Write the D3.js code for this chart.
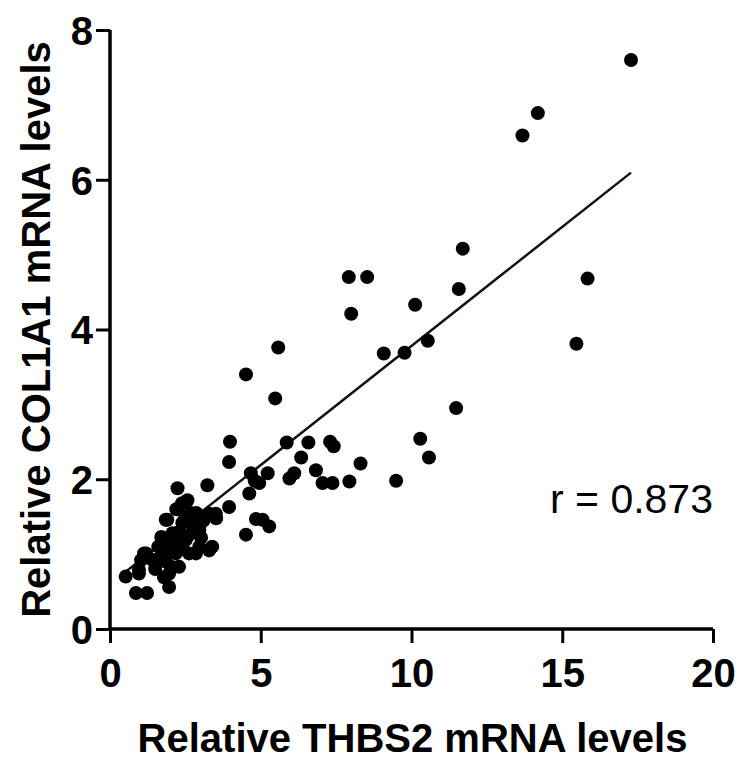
<!DOCTYPE html>
<html>
<head>
  <title>THBS2 vs COL1A1</title>
  <style>
    body { margin: 0; background: #fff; }
    text { font-family: "Liberation Sans", Arial, sans-serif; fill: #000; }
  </style>
</head>
<body>
  <svg width="741" height="772" class="svg-scatter"></svg>
<script src="https://cdnjs.cloudflare.com/ajax/libs/d3/7.8.5/d3.min.js"></script>
<script type="text/javascript">
  // values
  var thbs2 = [17.28, 14.19, 13.68, 11.70, 7.92, 8.53, 15.84, 11.57, 10.12, 8.00,
               10.54, 9.08, 9.77, 15.47, 11.48, 5.58, 4.51, 5.48, 3.98, 3.95,
               5.86, 6.58, 7.30, 7.42, 6.34, 10.29, 10.58, 8.31, 9.49, 7.94,
               6.83, 7.05, 7.38, 5.95, 6.11, 4.67, 5.23, 4.62, 3.23, 3.95,
               5.06, 5.28, 4.51, 3.29, 4.84, 4.95, 4.80,
               2.24, 2.39, 2.57, 2.68, 2.86, 3.51, 3.52, 1.85, 1.90, 2.40,
               2.96, 2.96, 2.07, 2.13, 2.51, 1.73, 1.70, 3.29, 3.39, 2.96,
               2.85, 2.62, 2.18, 2.19, 1.79, 1.13, 1.20, 1.41, 1.53, 1.03,
               1.85, 2.29, 2.03, 1.96, 1.79, 0.52, 0.96, 0.96, 1.96, 0.86, 1.23,
               2.20, 2.50, 2.72, 3.10, 2.30, 2.60, 1.60, 2.40, 3.02, 2.10,
               1.50, 1.68]
  var col1a1 = [7.60, 6.89, 6.59, 5.08, 4.70, 4.70, 4.68, 4.54, 4.33, 4.21,
                3.85, 3.68, 3.69, 3.81, 2.95, 3.76, 3.40, 3.08, 2.50, 2.23,
                2.49, 2.49, 2.50, 2.44, 2.29, 2.54, 2.29, 2.21, 1.98, 1.97,
                2.12, 1.95, 1.95, 2.01, 2.08, 2.08, 2.08, 1.81, 1.92, 1.63,
                1.46, 1.37, 1.26, 1.54, 1.47, 1.95, 1.98,
                1.88, 1.68, 1.72, 1.55, 1.55, 1.54, 1.48, 1.46, 1.46, 1.42,
                1.37, 1.32, 1.28, 1.26, 1.19, 1.19, 1.23, 1.05, 1.10, 1.10,
                1.01, 1.01, 1.01, 1.05, 1.05, 1.01, 1.01, 0.92, 0.92, 0.92,
                0.90, 0.83, 0.83, 0.74, 0.69, 0.70, 0.74, 0.79, 0.56, 0.48, 0.48,
                1.60, 1.50, 1.40, 1.45, 1.30, 1.25, 1.10, 1.10, 1.22, 1.15,
                0.80, 0.95]
  var xTicks = [0, 5, 10, 15, 20]
  var yTicks = [0, 2, 4, 6, 8]
  var fitSlope = 0.318
  var fitIntercept = 0.60
  var rLabel = 'r = 0.873'

  var points = thbs2.map(function(d, i){ return {x: d, y: col1a1[i]} })

  var svg = d3.select('.svg-scatter')

  var x = d3.scaleLinear().domain([0, 20]).range([110, 713])
  var y = d3.scaleLinear().domain([0, 8]).range([629, 30])

  var xAxis = svg.append('g')
    .attr('transform', 'translate(0,' + y(0) + ')')
    .call(d3.axisBottom(x).tickValues(xTicks).tickSize(14).tickPadding(16))
  var yAxis = svg.append('g')
    .attr('transform', 'translate(' + x(0) + ',0)')
    .call(d3.axisLeft(y).tickValues(yTicks).tickSize(14).tickPadding(3))

  svg.selectAll('.domain').attr('stroke', '#000').attr('stroke-width', 3.5)
  xAxis.select('.domain').attr('d', 'M' + x(0) + ',0H' + x(20))
  yAxis.select('.domain').attr('d', 'M0,' + y(0) + 'V' + y(8))
  svg.selectAll('.tick line').attr('stroke', '#000').attr('stroke-width', 3)
  svg.selectAll('.tick text')
    .style('font-family', '"Liberation Sans", Arial, sans-serif')
    .style('font-size', '40px')
    .style('font-weight', 'bold')
  yAxis.selectAll('.tick text').attr('dy', '0.36em')

  // regression line over the data range
  var xr = d3.extent(thbs2)
  svg.append('line')
    .attr('x1', x(xr[0])).attr('y1', y(fitIntercept + fitSlope * xr[0]))
    .attr('x2', x(xr[1])).attr('y2', y(fitIntercept + fitSlope * xr[1]))
    .attr('stroke', '#111').attr('stroke-width', 2.5)

  svg.append('g').selectAll('circle')
    .data(points)
    .enter()
    .append('circle')
    .attr('cx', function(d){ return x(d.x) })
    .attr('cy', function(d){ return y(d.y) })
    .attr('r', 7)
    .attr('fill', '#000')

  svg.append('text')
    .attr('x', 550).attr('y', 513)
    .style('font-size', '41px')
    .text(rLabel)

  svg.append('text')
    .attr('x', (x(0) + x(20)) / 2 + 1).attr('y', 752)
    .attr('text-anchor', 'middle')
    .style('font-size', '40px').style('font-weight', 'bold')
    .text('Relative THBS2 mRNA levels')

  svg.append('text')
    .attr('transform', 'translate(50,' + ((y(0) + y(8)) / 2) + ') rotate(-90)')
    .attr('text-anchor', 'middle')
    .style('font-size', '40px').style('font-weight', 'bold')
    .text('Relative COL1A1 mRNA levels')
</script>
</body>
</html>
